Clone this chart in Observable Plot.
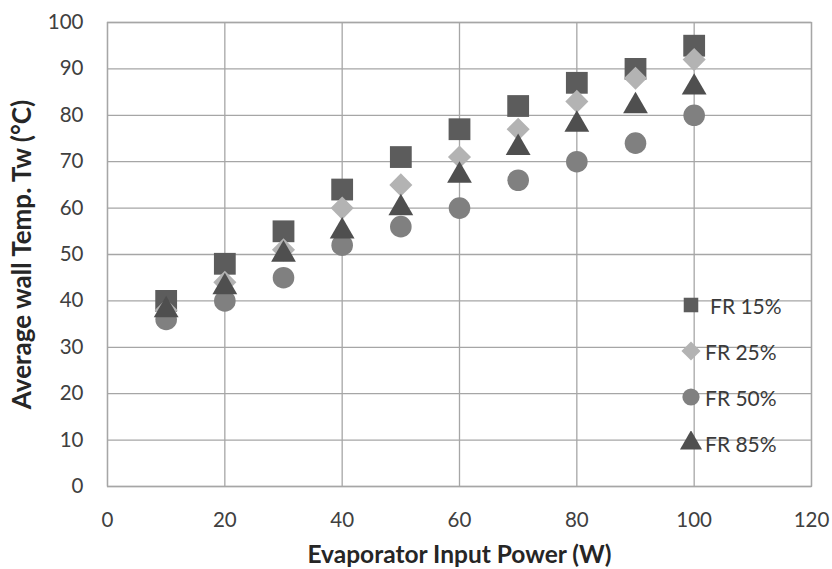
<!DOCTYPE html>
<html>
<head>
<meta charset="utf-8">
<script src="https://cdn.jsdelivr.net/npm/d3@7"></script>
<script src="https://cdn.jsdelivr.net/npm/@observablehq/plot@0.6"></script>
<style>
  body { margin: 0; background: #fff; }
  #wrap { position: relative; width: 832px; height: 569px; font-family: Lato, "Open Sans", sans-serif; }
  #legend { position: absolute; left: 679px; top: 282px; }
  .item { display: flex; align-items: center; height: 46px; font-size: 21px; color: #3a3a3a; }
  .item svg { width: 24px; height: 24px; margin-right: 2px; }
</style>
</head>
<body>
<div id="wrap"></div>
<script>
const power = [10, 20, 30, 40, 50, 60, 70, 80, 90, 100];
const fr15 = [40, 48, 55, 64, 71, 77, 82, 87, 90, 95];
const fr25 = [38, 44, 51, 60, 65, 71, 77, 83, 88, 92];
const fr50 = [36, 40, 45, 52, 56, 60, 66, 70, 74, 80];
const fr85 = [38, 43, 50, 55, 60, 67, 73, 78, 82, 86];
const seriesNames = ["FR 15%", "FR 25%", "FR 50%", "FR 85%"];
const xTicks = [0, 20, 40, 60, 80, 100, 120];
const yTicks = [0, 10, 20, 30, 40, 50, 60, 70, 80, 90, 100];
const xLabel = "Evaporator Input Power (W)";
const yLabel = "Average wall Temp. Tw (°C)";

const styles = [
  {symbol: "square", fill: "#5c5c5c", r: 12.3},
  {symbol: "diamond2", fill: "#b3b3b3", r: 10.4},
  {symbol: "circle", fill: "#808080", r: 10.8},
  {symbol: "triangle", fill: "#4f4f4f", r: 9.2}
];
const values = [fr15, fr25, fr50, fr85];
const rows = values.map((vals) => power.map((p, i) => ({x: p, y: vals[i]})));

const gridColor = "#a6a6a6";
const chart = Plot.plot({
  width: 832,
  height: 569,
  marginLeft: 107,
  marginRight: 21,
  marginTop: 22,
  marginBottom: 83,
  style: {fontFamily: "Lato, 'Open Sans', sans-serif", fontSize: "20.5px", color: "#404040", background: "#fff"},
  x: {domain: [0, 120]},
  y: {domain: [0, 100]},
  marks: [
    Plot.gridX(xTicks, {stroke: gridColor, strokeOpacity: 1, strokeWidth: 1.3}),
    Plot.gridY(yTicks, {stroke: gridColor, strokeOpacity: 1, strokeWidth: 1.3}),
    Plot.frame({stroke: gridColor, strokeWidth: 1.3}),
    ...rows.map((data, k) => Plot.dot(data, {x: "x", y: "y", symbol: () => styles[k].symbol, fill: styles[k].fill, stroke: "none", r: styles[k].r})),
    Plot.axisX({ticks: xTicks, tickSize: 0, tickPadding: 26, fill: "#404040", label: xLabel, labelAnchor: "center", labelArrow: "none", labelOffset: 76}),
    Plot.axisY({ticks: yTicks, tickSize: 0, tickPadding: 24, fill: "#404040", label: yLabel, labelAnchor: "center", labelArrow: "none", labelOffset: 95})
  ]
});
document.getElementById("wrap").appendChild(chart);
chart.querySelectorAll("g").forEach(g => {
  const ts = g.querySelectorAll(":scope > text");
  if (ts.length === 1 && (ts[0].textContent === xLabel || ts[0].textContent === yLabel)) {
    g.setAttribute("font-weight", "bold");
    g.setAttribute("fill", "#262626");
    g.setAttribute("font-size", ts[0].textContent === yLabel ? "26px" : "24.5px");
  }
});

// legend
const legend = document.createElement("div");
legend.id = "legend";
const legendSizes = [8.2, 8.6, 8.6, 8.2];
const symMap = {square: d3.symbolSquare, diamond2: d3.symbolDiamond2, circle: d3.symbolCircle, triangle: d3.symbolTriangle};
seriesNames.forEach((name, k) => {
  const item = document.createElement("div");
  item.className = "item";
  const svg = d3.create("svg").attr("viewBox", "-12 -12 24 24");
  svg.append("path")
    .attr("d", d3.symbol(symMap[styles[k].symbol], Math.PI * legendSizes[k] ** 2)())
    .attr("fill", styles[k].fill);
  item.appendChild(svg.node());
  const span = document.createElement("span");
  span.textContent = name;
  if (k === 0) span.style.marginLeft = "5px";
  item.appendChild(span);
  legend.appendChild(item);
});
document.getElementById("wrap").appendChild(legend);
</script>
</body>
</html>
